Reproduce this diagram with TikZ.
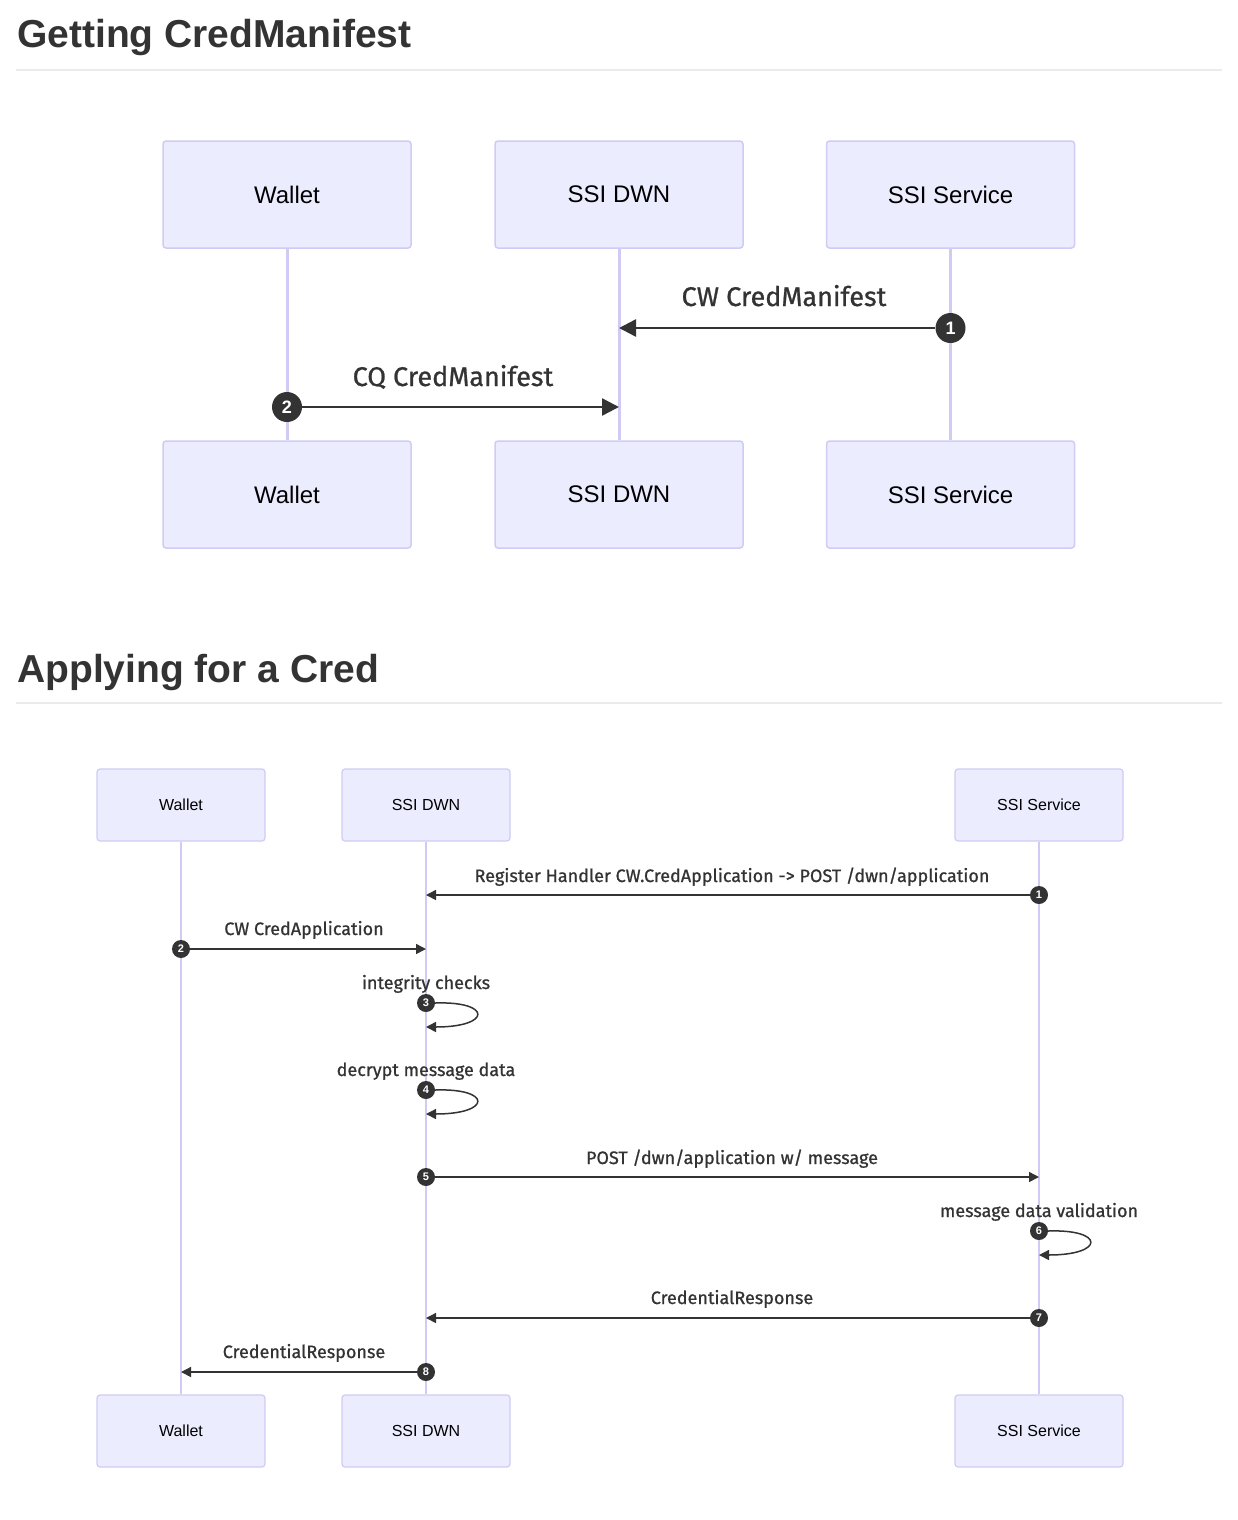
\documentclass[tikz,border=0pt]{standalone}
\usepackage{fontspec}
\setmainfont{Liberation Sans}
\newfontfamily\msgfont{Fira Sans}[FakeBold=0.9]
\usetikzlibrary{arrows.meta}

\definecolor{actorfill}{HTML}{ECECFF}
\definecolor{actorline}{HTML}{CFCBF5}
\definecolor{ink}{HTML}{333333}
\definecolor{rulegray}{HTML}{EBEBEB}

\begin{document}
\begin{tikzpicture}[x=1pt, y=-1pt,
    title/.style = {anchor=base west, inner sep=0pt, text=ink, font=\fontsize{39}{46}\selectfont\bfseries},
    bigactor/.style = {draw=actorline, fill=actorfill, rounded corners=3pt, line width=1.5pt,
        minimum width=248pt, minimum height=107pt, font=\fontsize{24}{28}\selectfont},
    smallactor/.style = {draw=actorline, fill=actorfill, rounded corners=3pt, line width=1.2pt,
        minimum width=168pt, minimum height=72pt, font=\fontsize{16}{19}\selectfont},
    bigline/.style = {draw=actorline, line width=3pt},
    smallline/.style = {draw=actorline, line width=2pt},
    bigbadge/.style = {circle, fill=ink, text=white, inner sep=0pt, minimum size=30pt,
        font=\fontsize{18}{20}\selectfont\bfseries},
    smallbadge/.style = {circle, fill=ink, text=white, inner sep=0pt, minimum size=18pt,
        font=\fontsize{11}{12}\selectfont\bfseries},
    bigmsg/.style = {draw=ink, line width=2.5pt, -{Triangle[length=17pt, width=17pt]}},
    smallmsg/.style = {draw=ink, line width=1.5pt, -{Triangle[length=10pt, width=10pt]}},
    biglabel/.style = {text=ink, inner sep=0pt, font=\msgfont\fontsize{27}{30}\selectfont},
    smalllabel/.style = {text=ink, inner sep=0pt, font=\msgfont\fontsize{18}{21}\selectfont}
  ]
  \useasboundingbox (0,0) rectangle (1238,1520);

  % Getting CredManifest
  \node[title] (t1) at (17,48) {Getting CredManifest};
  \draw[rulegray, line width=1.5pt] (16,70) -- (1222,70);

  \node[bigactor] (w1) at (287,194.5) {Wallet};
  \node[bigactor] (d1) at (619,194.5) {SSI DWN};
  \node[bigactor] (s1) at (950.5,194.5) {SSI Service};
  \node[bigactor] (w1b) at (287,494.5) {Wallet};
  \node[bigactor] (d1b) at (619,494.5) {SSI DWN};
  \node[bigactor] (s1b) at (950.5,494.5) {SSI Service};

  \draw[bigline] (w1) -- (w1b);
  \draw[bigline] (d1) -- (d1b);
  \draw[bigline] (s1) -- (s1b);

  \coordinate (d1m1) at (619,328);
  \coordinate (d1m2) at (619,407);
  \node[bigbadge] (b1) at (950.5,328) {1};
  \node[bigbadge] (b2) at (287,407) {2};
  \draw[bigmsg] (b1) -- (d1m1);
  \draw[bigmsg] (b2) -- (d1m2);
  \node[biglabel, anchor=base] (l1) at (784,306) {CW CredManifest};
  \node[biglabel, anchor=base] (l2) at (453,386) {CQ CredManifest};

  % Applying for a Cred
  \node[title] (t2) at (17,682) {Applying for a Cred};
  \draw[rulegray, line width=1.5pt] (16,703) -- (1222,703);

  \node[smallactor] (w2) at (181,805) {Wallet};
  \node[smallactor] (d2) at (426,805) {SSI DWN};
  \node[smallactor] (s2) at (1039,805) {SSI Service};
  \node[smallactor] (w2b) at (181,1431) {Wallet};
  \node[smallactor] (d2b) at (426,1431) {SSI DWN};
  \node[smallactor] (s2b) at (1039,1431) {SSI Service};

  \draw[smallline] (w2) -- (w2b);
  \draw[smallline] (d2) -- (d2b);
  \draw[smallline] (s2) -- (s2b);

  \coordinate (d2m1) at (426,895);
  \coordinate (d2m2) at (426,949);
  \coordinate (d2m3) at (426,1027);
  \coordinate (d2m4) at (426,1114);
  \coordinate (s2m5) at (1039,1177);
  \coordinate (s2m6) at (1039,1255);
  \coordinate (d2m7) at (426,1318);
  \coordinate (w2m8) at (181,1372);

  \node[smallbadge] (c1) at (1039,895) {1};
  \node[smallbadge] (c2) at (181,949) {2};
  \node[smallbadge] (c3) at (426,1003) {3};
  \node[smallbadge] (c4) at (426,1090) {4};
  \node[smallbadge] (c5) at (426,1177) {5};
  \node[smallbadge] (c6) at (1039,1231) {6};
  \node[smallbadge] (c7) at (1039,1318) {7};
  \node[smallbadge] (c8) at (426,1372) {8};

  \draw[smallmsg] (c1) -- (d2m1);
  \draw[smallmsg] (c2) -- (d2m2);
  \draw[smallmsg] (c3.east) .. controls (492,1001) and (492,1027) .. (d2m3);
  \draw[smallmsg] (c4.east) .. controls (492,1088) and (492,1114) .. (d2m4);
  \draw[smallmsg] (c5) -- (s2m5);
  \draw[smallmsg] (c6.east) .. controls (1105,1229) and (1105,1255) .. (s2m6);
  \draw[smallmsg] (c7) -- (d2m7);
  \draw[smallmsg] (c8) -- (w2m8);

  \node[smalllabel, anchor=base] (m1) at (732,882) {Register Handler CW.CredApplication -> POST /dwn/application};
  \node[smalllabel, anchor=base] (m2) at (304,935) {CW CredApplication};
  \node[smalllabel, anchor=base] (m3) at (426,989) {integrity checks};
  \node[smalllabel, anchor=base] (m4) at (426,1076) {decrypt message data};
  \node[smalllabel, anchor=base] (m5) at (732,1164) {POST /dwn/application w/ message};
  \node[smalllabel, anchor=base] (m6) at (1039,1217) {message data validation};
  \node[smalllabel, anchor=base] (m7) at (732,1304) {CredentialResponse};
  \node[smalllabel, anchor=base] (m8) at (304,1358) {CredentialResponse};
\end{tikzpicture}
\end{document}
